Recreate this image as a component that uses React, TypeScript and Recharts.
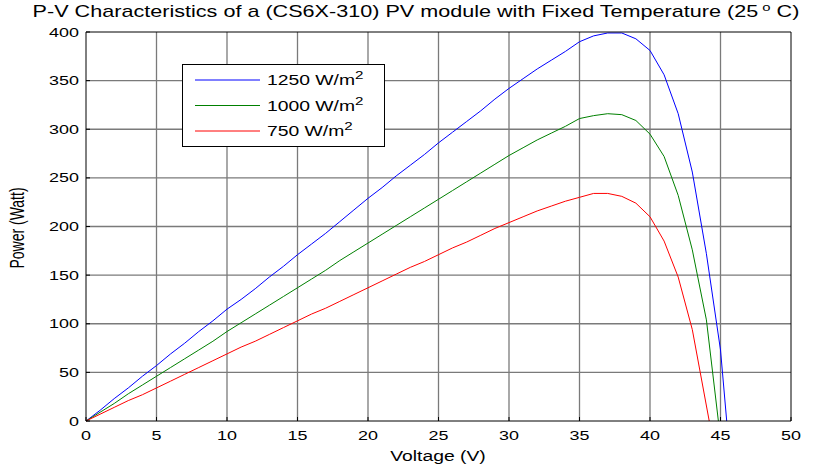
import React from 'react';
import { LineChart, Line, XAxis, YAxis, Legend } from 'recharts';

// P-V curves of the CS6X-310 module at 25 °C, one per irradiance level
const volts1250 = [0, 1, 2, 3, 4, 5, 6, 7, 8, 9, 10, 11, 12, 13, 14, 15, 16, 17, 18, 19, 20, 21, 22, 23, 24, 25, 26, 27, 28, 29, 30, 31, 32, 33, 34, 35, 36, 37, 38, 39, 40, 41, 42, 43, 44, 45, 45.44];
const power1250 = [0, 11, 23, 34, 46, 57, 69, 80, 92, 103, 115, 125, 136, 148, 159, 171, 182, 193, 205, 217, 229, 240, 252, 263, 274, 286, 297, 308, 319, 331, 342, 352, 362, 371, 380, 390, 396, 399, 399, 393, 381, 356, 316, 256, 172, 73, 0];

const volts1000 = [0, 1, 2, 3, 4, 5, 6, 7, 8, 9, 10, 11, 12, 13, 14, 15, 16, 17, 18, 19, 20, 21, 22, 23, 24, 25, 26, 27, 28, 29, 30, 31, 32, 33, 34, 35, 36, 37, 38, 39, 40, 41, 42, 43, 44, 44.85];
const power1000 = [0, 9, 18, 28, 37, 46, 55, 64, 73, 82, 92, 101, 110, 119, 128, 137, 146, 155, 165, 174, 183, 192, 201, 210, 219, 228, 237, 246, 255, 264, 273, 281, 289, 296, 303, 311, 314, 316, 315, 309, 295, 272, 232, 176, 104, 0];

const volts750 = [0, 1, 2, 3, 4, 5, 6, 7, 8, 9, 10, 11, 12, 13, 14, 15, 16, 17, 18, 19, 20, 21, 22, 23, 24, 25, 26, 27, 28, 29, 30, 31, 32, 33, 34, 35, 36, 37, 38, 39, 40, 41, 42, 43, 44.2];
const power750 = [0, 7, 14, 21, 27, 34, 41, 48, 55, 62, 69, 76, 82, 89, 96, 103, 110, 116, 123, 130, 137, 144, 151, 158, 164, 171, 178, 184, 191, 198, 204, 210, 216, 221, 226, 230, 234, 234, 231, 224, 210, 185, 148, 94, 0];

const irradiance = ['1250', '1000', '750'];
const colors = ['#0000ff', '#008000', '#ff0000'];

const xTicks = [0, 5, 10, 15, 20, 25, 30, 35, 40, 45, 50];
const yTicks = [0, 50, 100, 150, 200, 250, 300, 350, 400];
const xDomain = [0, 50];
const yDomain = [0, 400];

const toPoints = (v: number[], p: number[]) => v.map((x, i) => ({ v: x, p: p[i] }));
const series = [
  toPoints(volts1250, power1250),
  toPoints(volts1000, power1000),
  toPoints(volts750, power750),
];

// grid lines as two-point segments through the chart scales
const gridSegments = [
  ...xTicks.slice(1, -1).map((t) => [{ v: t, p: yDomain[0] }, { v: t, p: yDomain[1] }]),
  ...yTicks.slice(1, -1).map((t) => [{ v: xDomain[0], p: t }, { v: xDomain[1], p: t }]),
];

const W = 817;
const H = 468;
const M = { top: 31, right: 25, bottom: 17, left: 26 };

const FONT = 'Liberation Sans, Arial, sans-serif';
const SX = 1.38; // glyphs are drawn wide
const GRID = '#7a7a7a';

const XTick = ({ x, y, payload }: any) => (
  <text transform={`translate(${x},${y}) scale(${SX},1)`} textAnchor="middle" dy="0.71em" fontSize={13} fontFamily={FONT} fill="#000">
    {payload.value}
  </text>
);

const YTick = ({ x, y, payload }: any) => (
  <text transform={`translate(${x},${y}) scale(${SX},1)`} textAnchor="end" dy="0.355em" fontSize={13} fontFamily={FONT} fill="#000">
    {payload.value}
  </text>
);

const LegendBox = () => (
  <svg width={204} height={84} style={{ display: 'block' }}>
    <rect x={0.5} y={0.5} width={202} height={82} fill="#fff" stroke="#000" strokeWidth={1} />
    {irradiance.map((g, i) => {
      const cy = 16 + i * 25.5;
      return (
        <g key={g}>
          <line x1={13} x2={78} y1={cy} y2={cy} stroke={colors[i]} strokeWidth={1} />
          <text transform={`translate(85,${cy + 5}) scale(${SX},1)`} fontSize={14} fontFamily={FONT} fill="#000">
            {g} W/m
            <tspan dy={-6} fontSize={11}>2</tspan>
          </text>
        </g>
      );
    })}
  </svg>
);

export default function App() {
  return (
    <div style={{ position: 'absolute', left: 0, top: 0, width: W, height: H, background: '#fff' }}>
      <LineChart width={W} height={H} margin={M}>
        {/* top and right edges of the frame */}
        <XAxis
          xAxisId="top"
          orientation="top"
          type="number"
          domain={xDomain}
          ticks={xTicks}
          height={1}
          axisLine={{ stroke: '#000' }}
          tickLine={false}
          tick={false}
        />
        <YAxis
          yAxisId="right"
          orientation="right"
          type="number"
          domain={yDomain}
          ticks={yTicks}
          width={1}
          axisLine={{ stroke: '#000' }}
          tickLine={false}
          tick={false}
        />
        <XAxis
          dataKey="v"
          type="number"
          domain={xDomain}
          ticks={xTicks}
          height={30}
          axisLine={{ stroke: '#000' }}
          tickLine={{ stroke: '#000' }}
          tickSize={-4}
          tickMargin={14}
          tick={<XTick />}
          interval={0}
        />
        <YAxis
          type="number"
          domain={yDomain}
          ticks={yTicks}
          width={60}
          axisLine={{ stroke: '#000' }}
          tickLine={{ stroke: '#000' }}
          tickSize={-4}
          tickMargin={11}
          tick={<YTick />}
          interval={0}
        />
        {gridSegments.map((seg, i) => (
          <Line
            key={`grid-${i}`}
            data={seg}
            dataKey="p"
            type="linear"
            stroke={GRID}
            strokeWidth={1.3}
            dot={false}
            activeDot={false}
            legendType="none"
            isAnimationActive={false}
          />
        ))}
        {series.map((data, i) => (
          <Line
            key={irradiance[i]}
            data={data}
            dataKey="p"
            name={irradiance[i]}
            type="linear"
            stroke={colors[i]}
            strokeWidth={1}
            dot={false}
            activeDot={false}
            isAnimationActive={false}
          />
        ))}
        <Legend
          layout="horizontal"
          verticalAlign="middle"
          align="center"
          content={<LegendBox />}
          wrapperStyle={{ position: 'absolute', left: 182, top: 64, width: 204, height: 84 }}
        />
        <text transform="translate(416,17) scale(1.35,1)" textAnchor="middle" fontSize={16} fontFamily={FONT} fill="#000">
          P-V Characteristics of a (CS6X-310) PV module with Fixed Temperature (25
          <tspan dy={-6} fontSize={11}> o</tspan>
          <tspan dy={6}> C)</tspan>
        </text>
        <text transform={`translate(438,461) scale(${SX},1)`} textAnchor="middle" fontSize={14} fontFamily={FONT} fill="#000">
          Voltage (V)
        </text>
        <text transform={`translate(24,228) scale(${SX},1) rotate(-90)`} textAnchor="middle" fontSize={14} fontFamily={FONT} fill="#000">
          Power (Watt)
        </text>
      </LineChart>
    </div>
  );
}
